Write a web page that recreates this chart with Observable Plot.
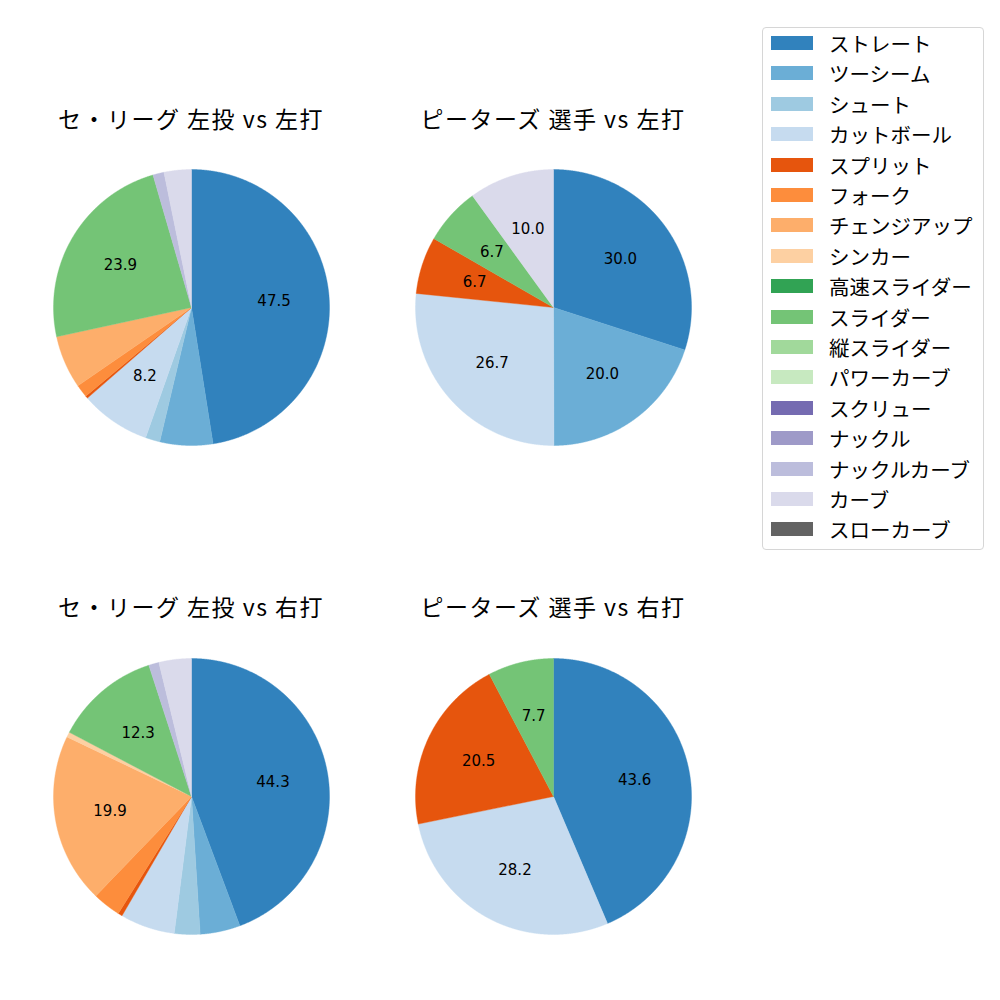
<!DOCTYPE html>
<html>
<head>
<meta charset="utf-8">
<script src="https://cdn.jsdelivr.net/npm/d3@7"></script>
<script src="https://cdn.jsdelivr.net/npm/@observablehq/plot@0.6"></script>
<style>
  body { margin: 0; background: #fff; font-family: "Noto Sans CJK JP", "Noto Sans", sans-serif; }
  #root { position: relative; width: 1000px; height: 1000px; overflow: hidden; }
  .title { position: absolute; width: 400px; text-align: center; font-size: 23px; letter-spacing: 1.5px; line-height: 28px; color: #000; white-space: nowrap; }
  .pie { position: absolute; }
  #legend { position: absolute; left: 762px; top: 27px; width: 222px; height: 523px; box-sizing: border-box;
            border: 1px solid #d6d6d6; border-radius: 4px; background: #fff; }
  .sw { position: absolute; left: 8px; width: 42px; height: 14px; }
  .lab { position: absolute; left: 66px; font-size: 20.5px; line-height: 24px; color: #000; white-space: nowrap; }
</style>
</head>
<body>
<div id="root"><div id="legend"></div></div>
<script>
// ---- data ----
const pitchTypes = ["ストレート","ツーシーム","シュート","カットボール","スプリット","フォーク","チェンジアップ","シンカー",
  "高速スライダー","スライダー","縦スライダー","パワーカーブ","スクリュー","ナックル","ナックルカーブ","カーブ","スローカーブ"];
const pitchColors = ["#3182bd","#6baed6","#9ecae1","#c6dbef","#e6550d","#fd8d3c","#fdae6b","#fdd0a2",
  "#31a354","#74c476","#a1d99b","#c7e9c0","#756bb1","#9e9ac8","#bcbddc","#dadaeb","#636363"];

const chartTitles = ["セ・リーグ 左投 vs 左打", "ピーターズ 選手 vs 左打", "セ・リーグ 左投 vs 右打", "ピーターズ 選手 vs 右打"];

// percentages per pitch type (same order as pitchTypes)
const leagueVsLeft  = [47.5, 6.2, 1.7, 8.2, 0.3, 1.5, 6.2, 0, 0, 23.9, 0, 0, 0, 0, 1.3, 3.2, 0];
const petersVsLeft  = [30.0, 20.0, 0, 26.7, 6.7, 0, 0, 0, 0, 6.7, 0, 0, 0, 0, 0, 10.0, 0];
const leagueVsRight = [44.3, 4.7, 3.0, 6.4, 0.5, 3.3, 19.9, 0.6, 0, 12.3, 0, 0, 0, 0, 1.2, 3.8, 0];
const petersVsRight = [43.6, 0, 0, 28.2, 20.5, 0, 0, 0, 0, 7.7, 0, 0, 0, 0, 0, 0, 0];

const series = [leagueVsLeft, petersVsLeft, leagueVsRight, petersVsRight];
const labelThreshold = 6.5;

// ---- layout ----
const root = document.getElementById("root");
const R = 138, half = 150;
const centers = [[191, 307], [553, 307], [191, 796], [553, 796]];
const titleY = [118, 606];
const lim = half / R;

series.forEach((vals, i) => {
  const data = pitchTypes.map((t, k) => ({type: t, value: vals[k]})).filter(d => d.value > 0);
  const total = d3.sum(data, d => d.value);
  const arcs = d3.pie().sort(null).value(d => d.value).startAngle(0).endAngle(2 * Math.PI)(data);
  const pts = [];
  const labels = [];
  arcs.forEach(a => {
    const n = Math.max(2, Math.ceil((a.endAngle - a.startAngle) / 0.004));
    pts.push({type: a.data.type, x: 0, y: 0});
    for (let j = 0; j <= n; j++) {
      const ang = a.startAngle + (a.endAngle - a.startAngle) * j / n;
      pts.push({type: a.data.type, x: Math.sin(ang), y: Math.cos(ang)});
    }
    pts.push({type: a.data.type, x: 0, y: 0});
    const p = a.data.value / total * 100;
    if (p >= labelThreshold) {
      const m = (a.startAngle + a.endAngle) / 2;
      labels.push({x: 0.6 * Math.sin(m), y: 0.6 * Math.cos(m), text: d3.format(".1f")(p)});
    }
  });
  const chart = Plot.plot({
    width: 2 * half, height: 2 * half, margin: 0,
    x: {domain: [-lim, lim], axis: null},
    y: {domain: [-lim, lim], axis: null},
    color: {domain: pitchTypes, range: pitchColors},
    style: {background: "transparent", fontFamily: "'DejaVu Sans', sans-serif"},
    marks: [
      Plot.line(pts, {x: "x", y: "y", z: "type", fill: "type", stroke: "type", strokeWidth: 0.4, curve: "linear"}),
      Plot.text(labels, {x: "x", y: "y", text: "text", fontSize: 15, fill: "#000"})
    ]
  });
  const wrap = document.createElement("div");
  wrap.className = "pie";
  wrap.style.left = (centers[i][0] - half) + "px";
  wrap.style.top = (centers[i][1] - half) + "px";
  wrap.appendChild(chart);
  root.appendChild(wrap);

  const t = document.createElement("div");
  t.className = "title";
  t.textContent = chartTitles[i];
  t.style.left = (centers[i][0] - 200) + "px";
  t.style.top = (titleY[Math.floor(i / 2)] - 14) + "px";
  root.appendChild(t);
});

// ---- legend ----
const legend = document.getElementById("legend");
pitchTypes.forEach((t, k) => {
  const cy = 43 + k * 30.4 - 27;
  const sw = document.createElement("div");
  sw.className = "sw";
  sw.style.background = pitchColors[k];
  sw.style.top = (cy - 7 - 1) + "px";
  legend.appendChild(sw);
  const lab = document.createElement("div");
  lab.className = "lab";
  lab.textContent = t;
  lab.style.top = (cy - 12 - 1) + "px";
  legend.appendChild(lab);
});
</script>
</body>
</html>
